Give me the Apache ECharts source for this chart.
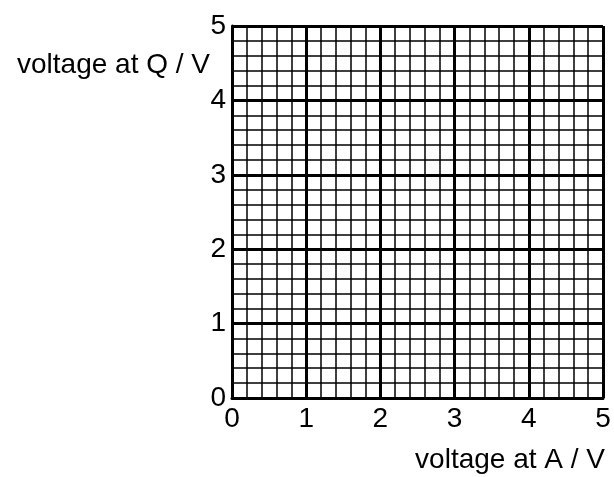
<!DOCTYPE html>
<html>
<head>
<meta charset="utf-8">
<script src="https://cdn.jsdelivr.net/npm/echarts@6/dist/echarts.min.js"></script>
<style>
  html, body { margin: 0; padding: 0; background: #fff; }
  #chart { width: 614px; height: 477px; }
</style>
</head>
<body>
<div id="chart"></div>
<script>
// axis ranges and labels
var axisMin = 0;
var axisMax = 5;
var majorStep = 1;
var minorPerMajor = 5;
var xName = 'voltage at A / V';
var yName = 'voltage at Q / V';
// the graph paper is blank: no plotted points
var points = [];

var chart = echarts.init(document.getElementById('chart'));

var font = 'Liberation Sans, Arial, sans-serif';
var fontSize = 28;

function makeAxis(isX) {
	return {
		type: 'value',
		min: axisMin,
		max: axisMax,
		interval: majorStep,
		name: isX ? xName : yName,
		nameLocation: 'end',
		nameGap: isX ? 2 : -39,
		nameTextStyle: isX ? {
			color: '#000', fontSize: fontSize, fontFamily: font,
			align: 'right', verticalAlign: 'top', padding: [48, 0, 0, 0]
		} : {
			color: '#000', fontSize: fontSize, fontFamily: font,
			align: 'right', verticalAlign: 'middle', padding: [0, 22, 0, 0]
		},
		axisLine: { show: true, onZero: false, lineStyle: { color: '#000', width: 3 } },
		axisTick: { show: false },
		axisLabel: { color: '#000', fontSize: fontSize, fontFamily: font, margin: isX ? 7 : 6 },
		splitLine: { show: true, lineStyle: { color: '#000', width: 3 } },
		minorTick: { show: false, splitNumber: minorPerMajor },
		minorSplitLine: { show: true, lineStyle: { color: '#000', width: 1.5 } }
	};
}

var option = {
	animation: false,
	backgroundColor: '#fff',
	grid: { left: 232, top: 26, right: 11, bottom: 79 },
	xAxis: makeAxis(true),
	yAxis: makeAxis(false),
	series: [
		{ type: 'scatter', data: points }
	]
};
chart.setOption(option);
</script>
</body>
</html>
